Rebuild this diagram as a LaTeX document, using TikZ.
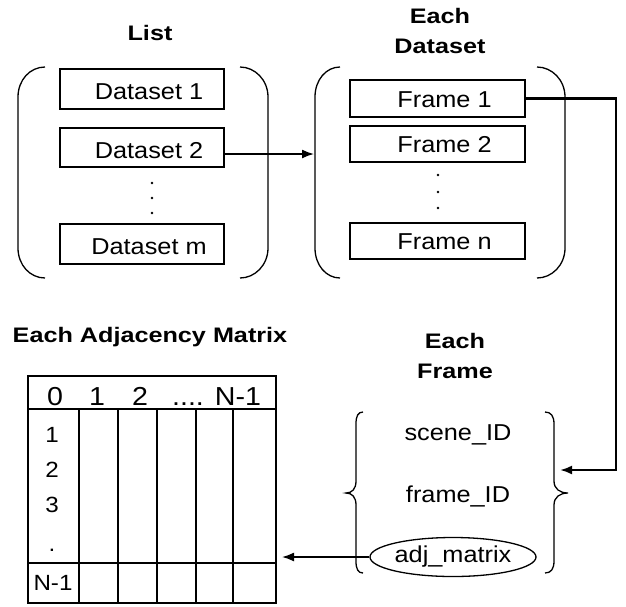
\documentclass[tikz,border=0pt]{standalone}
\usepackage{fontspec}
\setmainfont{Liberation Sans}
\newfontfamily\bodyf[FakeStretch=1.1]{Liberation Sans}
\newfontfamily\titlef[FakeStretch=1.2]{Liberation Sans}
\usetikzlibrary{arrows.meta,shapes.geometric,calc}
\begin{document}
\begin{tikzpicture}[x=1pt,y=-1pt,
  bodytxt/.style={font=\bodyf\fontsize{23}{27}\selectfont},
  titletxt/.style={font=\titlef\bfseries\fontsize{21}{30}\selectfont,align=center,anchor=base,inner sep=0pt},
  dsbox/.style={draw,line width=1.3pt,minimum width=164pt,inner sep=0pt,bodytxt,text height=21pt,text depth=0pt},
  frbox/.style={draw,line width=1.3pt,minimum width=175pt,inner sep=0pt,bodytxt,text height=17pt,text depth=0pt},
  brk/.style={line width=1.3pt},
  conn/.style={line width=1.6pt,-{Latex[length=12pt,width=9pt]}},
  grid/.style={line width=1.1pt},
  hdr/.style={font=\bodyf\fontsize{26}{28}\selectfont,anchor=base,inner sep=0pt},
  rowl/.style={font=\bodyf\fontsize{22}{26}\selectfont,anchor=base,inner sep=0pt},
  fld/.style={bodytxt,anchor=base,inner sep=0pt},
  dotm/.style={fill=black}]
\useasboundingbox (0,0) rectangle (626,606);

% ---- titles
\node[titletxt] (tList) at (150,40) {List};
\node[titletxt] (tDs) at (440,53) {Each\\Dataset};
\node[titletxt] (tFr) at (455,378) {Each\\Frame};
\node[titletxt] (tAdj) at (150,342) {Each Adjacency Matrix};

% ---- list of datasets
\draw[brk] (45,67) .. controls (30,67) and (18,80) .. (18,97) -- (18,248) .. controls (18,265) and (30,278) .. (45,278);
\draw[brk] (240,67) .. controls (255,67) and (268,80) .. (268,97) -- (268,248) .. controls (268,265) and (255,278) .. (240,278);
\node[dsbox,minimum height=40pt] (d1) at (142,89) {\hspace*{14pt}Dataset 1};
\node[dsbox,minimum height=39pt] (d2) at (142,147.5) {\hspace*{14pt}Dataset 2};
\node[dsbox,minimum height=40pt] (dm) at (142,244) {\hspace*{14pt}Dataset m};
\foreach \yy in {183,198,213} \fill[dotm] (152,\yy) circle (1.3pt);

% ---- each dataset
\draw[brk] (340,67) .. controls (326,67) and (315,80) .. (315,97) -- (315,248) .. controls (315,265) and (326,278) .. (340,278);
\draw[brk] (537,67) .. controls (552,67) and (565,80) .. (565,97) -- (565,248) .. controls (565,265) and (552,278) .. (537,278);
\node[frbox,minimum height=37pt] (f1) at (437.5,98.5) {\hspace*{14pt}Frame 1};
\node[frbox,minimum height=36pt] (f2) at (437.5,144) {\hspace*{14pt}Frame 2};
\node[frbox,minimum height=36pt] (fn) at (437.5,241) {\hspace*{14pt}Frame n};
\foreach \yy in {175,192,208} \fill[dotm] (438,\yy) circle (1.3pt);

% ---- each frame
\draw[brk] (363,412) .. controls (358,412) and (356,416) .. (356,424) -- (356,481) .. controls (356,489) and (352,493) .. (346,493) .. controls (352,493) and (356,497) .. (356,505) -- (356,561) .. controls (356,569) and (358,573) .. (363,573);
\draw[brk] (545,412) .. controls (551,412) and (554,416) .. (554,424) -- (554,481) .. controls (554,489) and (560,493) .. (568,493) .. controls (560,493) and (554,497) .. (554,505) -- (554,561) .. controls (554,569) and (551,573) .. (545,573);
\node[fld] (scene) at (458,440) {scene\_ID};
\node[fld] (frame) at (458,502) {frame\_ID};
\node[draw,ellipse,line width=1.3pt,minimum width=166pt,minimum height=39pt,inner sep=0pt,bodytxt] (adj) at (453,557) {adj\_matrix};

% ---- adjacency matrix
\node[draw,grid,minimum width=248pt,minimum height=227pt,inner sep=0pt] (mat) at (152,489.5) {};
\draw[grid] (28,409) -- (276,409);
\draw[grid] (28,563) -- (276,563);
\foreach \xx in {79,118,157,196,233} \draw[grid] (\xx,409) -- (\xx,603);
\node[hdr] (h0) at (55,405) {0};
\node[hdr] (h1) at (97,405) {1};
\node[hdr] (h2) at (140,405) {2};
\node[hdr] (h3) at (188,405) {....};
\node[hdr] (h4) at (238,405) {N-1};
\node[rowl] (r1) at (52,442) {1};
\node[rowl] (r2) at (52,477) {2};
\node[rowl] (r3) at (52,512) {3};
\node[rowl] (r4) at (52,551) {.};
\node[rowl] (r5) at (53,590) {N-1};

% ---- connectors
\coordinate (dsL) at (314,154);
\draw[conn] (d2.east |- dsL) -- (dsL);
\coordinate (turn) at (616,470);
\coordinate (frR) at (560,470);
\draw[conn,line width=2.2pt] (f1.east) -- (f1.east -| turn) -- (turn) -- (frR);
\coordinate (matR) at (282,557);
\draw[conn] (adj.west) -- (matR);
\end{tikzpicture}
\end{document}
